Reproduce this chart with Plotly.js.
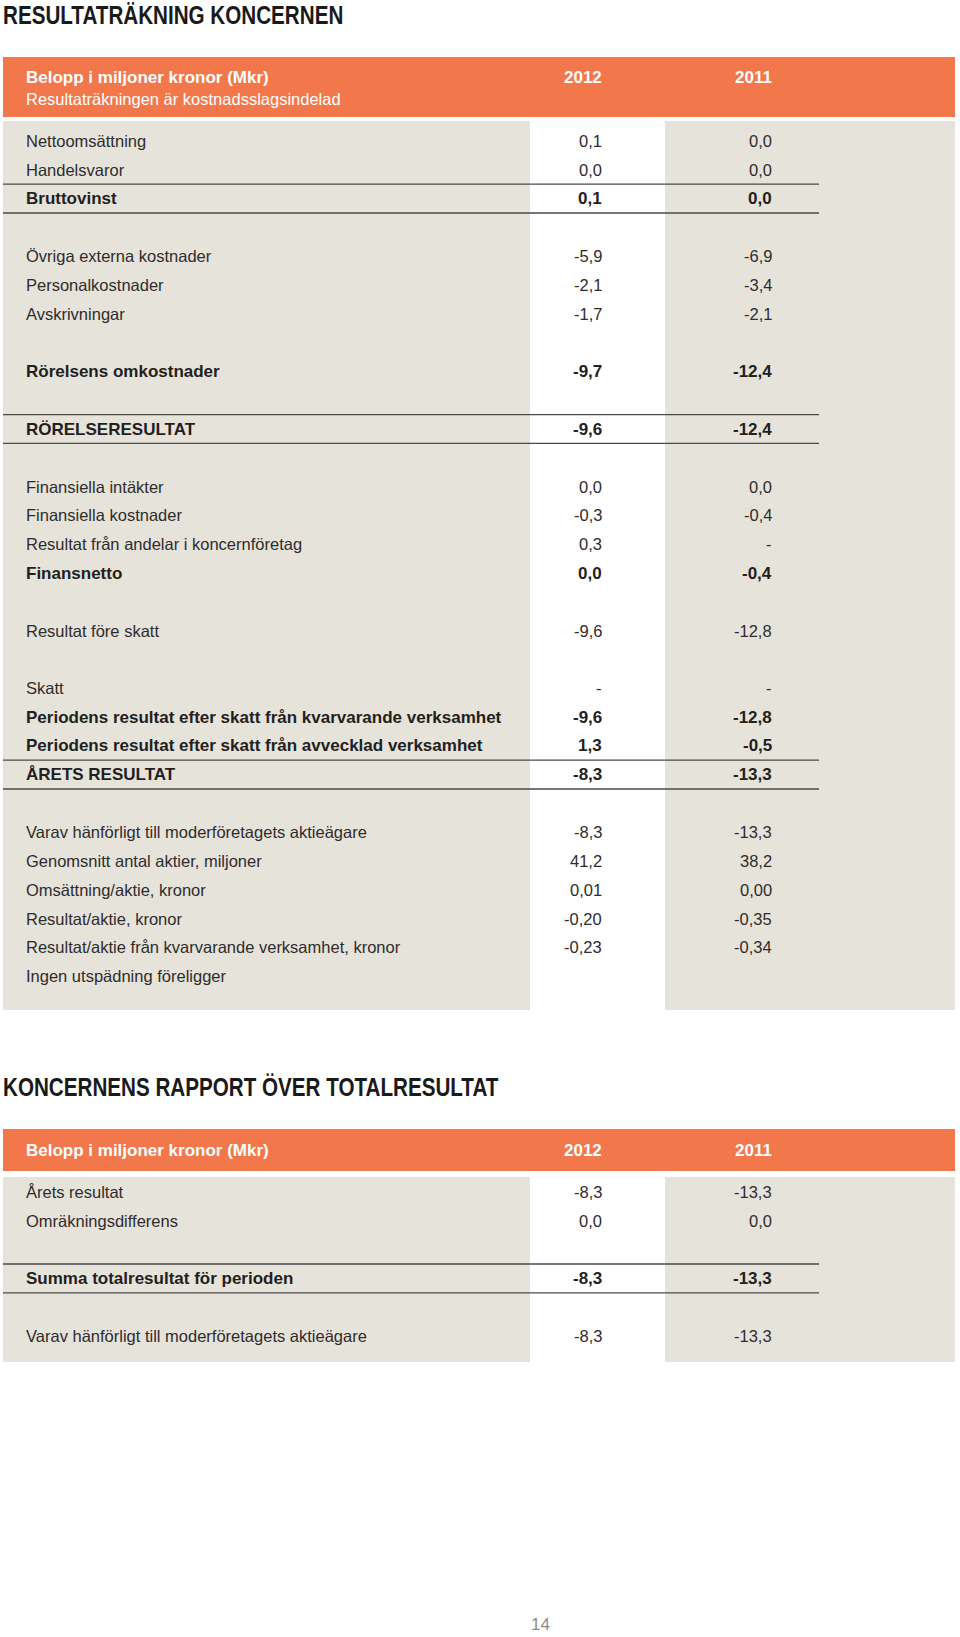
<!DOCTYPE html>
<html><head><meta charset="utf-8">
<script src="https://cdn.plot.ly/plotly-3.0.1.min.js"></script>
<style>html,body{margin:0;padding:0;background:#fff}#chart{width:960px;height:1637px}</style>
</head><body><div id="chart"></div>
<script>
// ---------- data ----------
const title1 = "RESULTATRÄKNING KONCERNEN";
const title2 = "KONCERNENS RAPPORT ÖVER TOTALRESULTAT";
const headerLabel = "Belopp i miljoner kronor (Mkr)";
const headerSub1 = "Resultaträkningen är kostnadsslagsindelad";
const years = ["2012", "2011"];
const pageNumber = "14";

// Table 1 (null = empty cell, "-" = dash)
const labels1 = [
  "Nettoomsättning", "Handelsvaror", "Bruttovinst", "",
  "Övriga externa kostnader", "Personalkostnader", "Avskrivningar", "",
  "Rörelsens omkostnader", "",
  "RÖRELSERESULTAT", "",
  "Finansiella intäkter", "Finansiella kostnader", "Resultat från andelar i koncernföretag", "Finansnetto", "",
  "Resultat före skatt", "",
  "Skatt", "Periodens resultat efter skatt från kvarvarande verksamhet",
  "Periodens resultat efter skatt från avvecklad verksamhet", "ÅRETS RESULTAT", "",
  "Varav hänförligt till moderföretagets aktieägare", "Genomsnitt antal aktier, miljoner",
  "Omsättning/aktie, kronor", "Resultat/aktie, kronor",
  "Resultat/aktie från kvarvarande verksamhet, kronor", "Ingen utspädning föreligger"
];
const values2012_1 = [
  0.1, 0.0, 0.1, null,
  -5.9, -2.1, -1.7, null,
  -9.7, null,
  -9.6, null,
  0.0, -0.3, 0.3, 0.0, null,
  -9.6, null,
  "-", -9.6, 1.3, -8.3, null,
  -8.3, 41.2, 0.01, -0.20, -0.23, null
];
const values2011_1 = [
  0.0, 0.0, 0.0, null,
  -6.9, -3.4, -2.1, null,
  -12.4, null,
  -12.4, null,
  0.0, -0.4, "-", -0.4, null,
  -12.8, null,
  "-", -12.8, -0.5, -13.3, null,
  -13.3, 38.2, 0.00, -0.35, -0.34, null
];
const decimals1 = [1,1,1,1, 1,1,1,1, 1,1, 1,1, 1,1,1,1,1, 1,1, 1,1,1,1,1, 1,1,2,2,2,1];
const boldRows1 = ["Bruttovinst", "Rörelsens omkostnader", "RÖRELSERESULTAT", "Finansnetto",
  "Periodens resultat efter skatt från kvarvarande verksamhet",
  "Periodens resultat efter skatt från avvecklad verksamhet", "ÅRETS RESULTAT"];
const ruledRows1 = ["Bruttovinst", "RÖRELSERESULTAT", "ÅRETS RESULTAT"];

// Table 2
const labels2 = ["Årets resultat", "Omräkningsdifferens", "", "Summa totalresultat för perioden", "",
  "Varav hänförligt till moderföretagets aktieägare"];
const values2012_2 = [-8.3, 0.0, null, -8.3, null, -8.3];
const values2011_2 = [-13.3, 0.0, null, -13.3, null, -13.3];
const decimals2 = [1, 1, 1, 1, 1, 1];
const boldRows2 = ["Summa totalresultat för perioden"];
const ruledRows2 = ["Summa totalresultat för perioden"];

// ---------- style / layout constants ----------
const W = 960, H = 1637;
const ORANGE = "#F2784B", BEIGE = "#E6E3DA", TXT = "#231F20", TXT_LIGHT = "#2f2c2d", RULE = "#4a4a4a";
const FONT = "Liberation Sans, Arial, sans-serif";
const PITCH = 28.8;
const xLeft = 3, xRight = 955, xWhite0 = 530, xWhite1 = 665, xRuleEnd = 819;
const xLabel = 25, xCol = [603, 773];
const TITLE_SQUEEZE = 0.825; // condensed look for headings

function fmt(v, d) {
  if (v === null || v === undefined) return "";
  if (typeof v === "string") return v;
  return v.toFixed(d).replace(".", ",");
}

const annotations = [];
const shapes = [];
function txt(x, y, text, anchor, opts) {
  opts = opts || {};
  annotations.push({
    xref: "x", yref: "y", x: x, y: y, text: opts.bold ? "<b>" + text + "</b>" : text,
    showarrow: false, xanchor: anchor, yanchor: "middle", borderpad: 0,
    align: opts.align || "center",
    font: { family: opts.family || FONT, size: opts.size || 16.5,
      color: opts.color || (opts.bold ? TXT : TXT_LIGHT), weight: opts.weight || "normal" }
  });
}
function rect(x0, y0, x1, y1, color) {
  shapes.push({ type: "rect", xref: "x", yref: "y", x0, y0, x1, y1, fillcolor: color,
    line: { width: 0 }, layer: "below" });
}
function hline(y) {
  shapes.push({ type: "line", xref: "x", yref: "y", x0: xLeft, x1: xRuleEnd, y0: y, y1: y,
    line: { color: RULE, width: 1.3 }, layer: "above" });
}

function buildTable(cfg) {
  rect(xLeft, cfg.headTop, xRight, cfg.headBot, ORANGE);
  rect(xLeft, cfg.bodyTop, xRight, cfg.bodyBot, BEIGE);
  rect(xWhite0, cfg.bodyTop, xWhite1, cfg.bodyBot, "#FFFFFF");
  txt(xLabel, cfg.headY, headerLabel, "left", { bold: true, color: "#FFFFFF", size: 17 });
  if (cfg.sub) txt(xLabel, cfg.headY + 22, cfg.sub, "left", { color: "#FFFFFF", size: 16.5 });
  years.forEach((yr, j) => txt(xCol[j], cfg.headY, yr, "right", { bold: true, color: "#FFFFFF", size: 17 }));
  cfg.labels.forEach((lab, i) => {
    const y = cfg.row0 + i * PITCH;
    if (lab === "") return;
    const bold = cfg.bold.indexOf(lab) >= 0;
    const size = bold ? 17 : 16.5;
    txt(xLabel, y, lab, "left", { bold, size });
    [cfg.v2012, cfg.v2011].forEach((arr, j) => {
      const s = fmt(arr[i], cfg.dec[i]);
      if (s !== "") txt(xCol[j], y, s, "right", { bold, size });
    });
    if (cfg.ruled.indexOf(lab) >= 0) {
      hline(y - PITCH / 2);
      hline(y + PITCH / 2);
    }
  });
}

// titles
txt(2, 15, title1, "left", { weight: "bold", size: 25, color: "#1a1a1a", align: "left" });
txt(2, 1087, title2, "left", { weight: "bold", size: 25, color: "#1a1a1a", align: "left" });

buildTable({ headTop: 57, headBot: 117, bodyTop: 121, bodyBot: 1010, headY: 77, sub: headerSub1,
  row0: 141, labels: labels1, v2012: values2012_1, v2011: values2011_1, dec: decimals1,
  bold: boldRows1, ruled: ruledRows1 });
buildTable({ headTop: 1129, headBot: 1171, bodyTop: 1177, bodyBot: 1362, headY: 1150, sub: null,
  row0: 1192, labels: labels2, v2012: values2012_2, v2011: values2011_2, dec: decimals2,
  bold: boldRows2, ruled: ruledRows2 });

txt(540, 1624, pageNumber, "center", { size: 17, color: "#8c8c8c" });

const data = [{ x: [0, W], y: [0, H], type: "scatter", mode: "markers",
  marker: { opacity: 0, size: 1 }, hoverinfo: "skip", showlegend: false }];

const layout = {
  width: W, height: H, margin: { l: 0, r: 0, t: 0, b: 0, pad: 0 },
  paper_bgcolor: "#FFFFFF", plot_bgcolor: "#FFFFFF", showlegend: false,
  xaxis: { range: [0, W], visible: false, fixedrange: true },
  yaxis: { range: [H, 0], visible: false, fixedrange: true },
  shapes: shapes, annotations: annotations
};
Plotly.newPlot("chart", data, layout, { staticPlot: true, displayModeBar: false }).then(gd => {
  // condense the two section headings (no condensed face installed)
  gd.querySelectorAll("text.annotation-text").forEach(el => {
    const t = el.textContent;
    if (t === title1 || t === title2) {
      const w = el.getComputedTextLength();
      el.setAttribute("text-anchor", "start");
      el.setAttribute("textLength", (w * TITLE_SQUEEZE).toFixed(1));
      el.setAttribute("lengthAdjust", "spacingAndGlyphs");
    }
  });
});
</script>
</body></html>
